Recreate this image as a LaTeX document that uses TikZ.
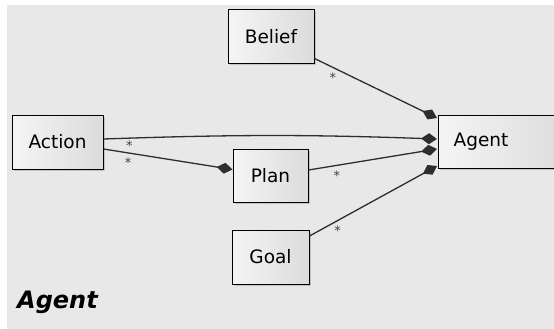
\documentclass[tikz,border=0pt]{standalone}
\usepackage{fontspec}
\setmainfont{DejaVu Sans}
\usetikzlibrary{arrows.meta,shadows,calc}
\definecolor{bggray}{HTML}{E8E8E8}
\definecolor{linegray}{HTML}{2E2E2E}
\begin{document}
\begin{tikzpicture}[x=1pt,y=1pt,
  box/.style={draw=black, line width=1pt, left color=gray!8, right color=gray!28,
    drop shadow={opacity=0.35, shadow xshift=1.5pt, shadow yshift=-1.5pt},
    inner sep=0pt, font=\fontsize{18.5}{20}\selectfont},
  assoc/.style={draw=linegray, line width=1.3pt,
    -{Diamond[length=16pt,width=11pt,fill=linegray]}},
  mult/.style={font=\fontsize{13}{13}\selectfont, inner sep=0pt, text=black!75}]
\useasboundingbox (0,0) rectangle (554,-329);
\fill[bggray] (7,-5) rectangle (554,-329);

\node[box, minimum width=86pt, minimum height=54pt] (belief) at (271,-37) {Belief};
\node[box, minimum width=91pt, minimum height=54pt] (action) at (57.5,-142) {Action};
\node[box, minimum width=75pt, minimum height=53pt] (plan) at (270.5,-175.5) {Plan};
\node[box, minimum width=77pt, minimum height=54pt] (goal) at (270.5,-257) {Goal};
\node[box, minimum width=130pt, minimum height=53pt, anchor=west] (agent) at (438,-142) {};
\node[font=\fontsize{18.5}{20}\selectfont, inner sep=0pt] (agenttext) at (481,-142) {Agent};

\draw[assoc] ($(belief.south east)+(0,6)$) -- node[mult, pos=0.15, below=5pt] (m1) {*} ($(agent.north west)+(-1,-3)$);
\draw[assoc] ($(action.east)+(0,3)$) to[bend left=2] ($(agent.west)+(-1,3)$);
\draw[assoc] ($(action.east)+(0,-7)$) -- node[mult, pos=0.2, above=2pt] (m2) {*} node[mult, pos=0.19, below=4pt] (m3) {*} ($(plan.west)+(0,6)$);
\draw[assoc] ($(plan.east)+(0,5.5)$) -- node[mult, pos=0.22, below=5pt] (m4) {*} ($(agent.west)+(-1,-7)$);
\draw[assoc] ($(goal.east)+(0,21)$) -- node[mult, pos=0.22, below=5pt] (m5) {*} ($(agent.south west)+(-1,3)$);

\node[anchor=base west, inner sep=0pt, font=\fontsize{24}{26}\selectfont\bfseries\itshape] (title) at (17,-308) {Agent};
\end{tikzpicture}
\end{document}
